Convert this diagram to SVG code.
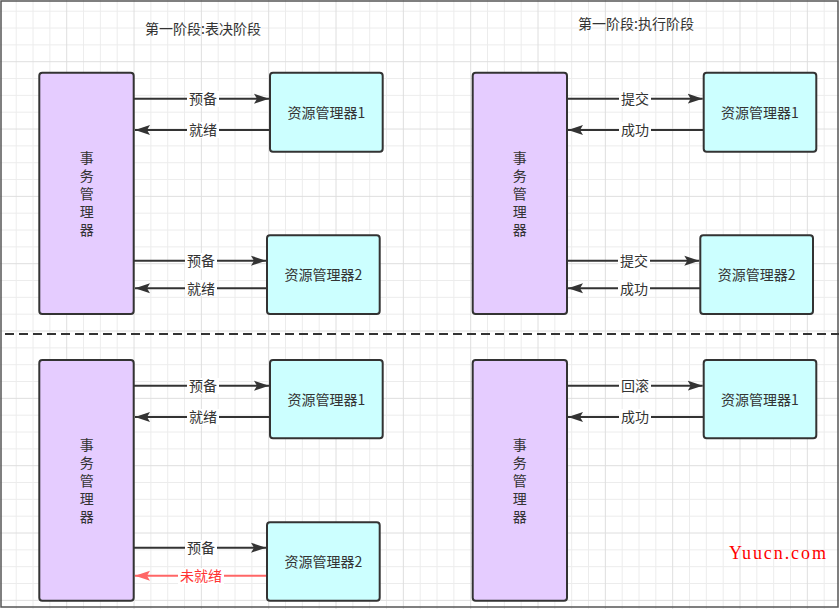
<svg xmlns="http://www.w3.org/2000/svg" width="839" height="609" viewBox="0 0 839 609">
<style>
.tm{fill:#E5CCFF;stroke:#333;stroke-width:2}
.rm{fill:#CCFFFF;stroke:#333;stroke-width:2}
.t{font-family:"Noto Sans CJK SC","Noto Sans",sans-serif;font-size:14px;fill:#333;text-anchor:middle}
.v{writing-mode:vertical-rl;letter-spacing:4px}
.e{stroke:#333;stroke-width:2;fill:none;marker-end:url(#ah)}
.er{stroke:#FF6666;stroke-width:2;fill:none;marker-end:url(#ahr)}
.lb{fill:#fff}
.red{fill:#FF3333}
</style>
<defs>
<pattern id="grid" patternUnits="userSpaceOnUse" x="24.62" y="19.62" width="67.33" height="67.33">
<path d="M8.42 0V67.33M25.25 0V67.33M58.92 0V67.33M0 8.42H67.33M0 25.25H67.33M0 58.92H67.33" stroke="#ececec" stroke-width="1"/>
<path d="M42.08 0V67.33M0 42.08H67.33" stroke="#dedede" stroke-width="1"/>
</pattern>
<marker id="ah" markerUnits="userSpaceOnUse" markerWidth="16" markerHeight="12" refX="15" refY="6" orient="auto">
<path d="M0,1 L15,6 L0,11 L3,6 Z" fill="#333"/>
</marker>
<marker id="ahr" markerUnits="userSpaceOnUse" markerWidth="16" markerHeight="12" refX="15" refY="6" orient="auto">
<path d="M0,1 L15,6 L0,11 L3,6 Z" fill="#FF6666"/>
</marker>
</defs>
<rect x="0" y="0" width="839" height="609" fill="#fff"/>
<rect x="0" y="0" width="839" height="609" fill="url(#grid)"/>
<rect x="1" y="1" width="837" height="606" fill="none" stroke="#555" stroke-width="1.5"/>
<line x1="5" y1="334" x2="839" y2="334" stroke="#333" stroke-width="2" stroke-dasharray="9 5"/>

<text class="t" x="203" y="33.5">第一阶段:表决阶段</text>
<text class="t" x="636" y="28.5">第一阶段:执行阶段</text>

<g id="connectors">
<line class="e" x1="134" y1="98.7" x2="269" y2="98.7"/>
<line class="e" x1="270" y1="130" x2="135" y2="130"/>
<line class="e" x1="134" y1="260.7" x2="266" y2="260.7"/>
<line class="e" x1="267" y1="288.3" x2="135" y2="288.3"/>

<line class="e" x1="567" y1="98.7" x2="702.7" y2="98.7"/>
<line class="e" x1="703.7" y1="130" x2="568" y2="130"/>
<line class="e" x1="567" y1="260.7" x2="699.3" y2="260.7"/>
<line class="e" x1="700.3" y1="288.3" x2="568" y2="288.3"/>

<line class="e" x1="134" y1="385.7" x2="269" y2="385.7"/>
<line class="e" x1="270" y1="417" x2="135" y2="417"/>
<line class="e" x1="134" y1="547.7" x2="266" y2="547.7"/>
<line class="er" x1="267" y1="575.7" x2="135" y2="575.7"/>

<line class="e" x1="567" y1="385.7" x2="702.7" y2="385.7"/>
<line class="e" x1="703.7" y1="417" x2="568" y2="417"/>

<rect class="lb" x="187" y="91" width="32" height="16"/><text class="t" x="203" y="104">预备</text>
<rect class="lb" x="187" y="122" width="32" height="16"/><text class="t" x="203" y="135">就绪</text>
<rect class="lb" x="185" y="253" width="32" height="16"/><text class="t" x="201" y="266">预备</text>
<rect class="lb" x="185" y="280" width="32" height="16"/><text class="t" x="201" y="293.5">就绪</text>

<rect class="lb" x="619" y="91" width="32" height="16"/><text class="t" x="635" y="104">提交</text>
<rect class="lb" x="619" y="122" width="32" height="16"/><text class="t" x="635" y="135">成功</text>
<rect class="lb" x="618" y="253" width="32" height="16"/><text class="t" x="634" y="266">提交</text>
<rect class="lb" x="618" y="280" width="32" height="16"/><text class="t" x="634" y="293.5">成功</text>

<rect class="lb" x="187" y="378" width="32" height="16"/><text class="t" x="203" y="391">预备</text>
<rect class="lb" x="187" y="409" width="32" height="16"/><text class="t" x="203" y="422">就绪</text>
<rect class="lb" x="185" y="540" width="32" height="16"/><text class="t" x="201" y="553">预备</text>
<rect class="lb" x="178" y="568" width="46" height="16"/><text class="t red" x="201" y="581">未就绪</text>

<rect class="lb" x="619" y="378" width="32" height="16"/><text class="t" x="635" y="391">回滚</text>
<rect class="lb" x="619" y="409" width="32" height="16"/><text class="t" x="635" y="422">成功</text>
</g>

<g id="tm1"><rect class="tm" x="39.3" y="72.7" width="94.4" height="241.3" rx="3"/>
<text class="t v" x="86.7" y="196">事务管理器</text></g>
<g id="rm1a"><rect class="rm" x="270" y="72.7" width="112.7" height="79" rx="3"/><text class="t" x="326.3" y="117.5">资源管理器1</text></g>
<g id="rm2a"><rect class="rm" x="267" y="235.3" width="112.7" height="78.7" rx="3"/><text class="t" x="323.3" y="280">资源管理器2</text></g>

<g id="tm2"><rect class="tm" x="472.7" y="72.7" width="94.3" height="241.3" rx="3"/>
<text class="t v" x="519.8" y="196">事务管理器</text></g>
<g id="rm1b"><rect class="rm" x="703.7" y="72.7" width="112.6" height="79" rx="3"/><text class="t" x="760" y="117.5">资源管理器1</text></g>
<g id="rm2b"><rect class="rm" x="700.3" y="235.3" width="112.7" height="78.7" rx="3"/><text class="t" x="756.7" y="280">资源管理器2</text></g>

<g id="tm3"><rect class="tm" x="39.3" y="360" width="94.4" height="240.7" rx="3"/>
<text class="t v" x="86.7" y="483">事务管理器</text></g>
<g id="rm1c"><rect class="rm" x="270" y="360" width="112.7" height="78.3" rx="3"/><text class="t" x="326.3" y="404.5">资源管理器1</text></g>
<g id="rm2c"><rect class="rm" x="267" y="522.3" width="112.7" height="78.4" rx="3"/><text class="t" x="323.3" y="566.5">资源管理器2</text></g>

<g id="tm4"><rect class="tm" x="472.7" y="360" width="94.3" height="240.7" rx="3"/>
<text class="t v" x="519.8" y="483">事务管理器</text></g>
<g id="rm1d"><rect class="rm" x="703.7" y="360" width="112.6" height="78.3" rx="3"/><text class="t" x="760" y="404.5">资源管理器1</text></g>

<text x="729" y="559" font-family="Liberation Serif,serif" font-size="18" fill="#FF0000" textLength="97" lengthAdjust="spacing">Yuucn.com</text>
</svg>
